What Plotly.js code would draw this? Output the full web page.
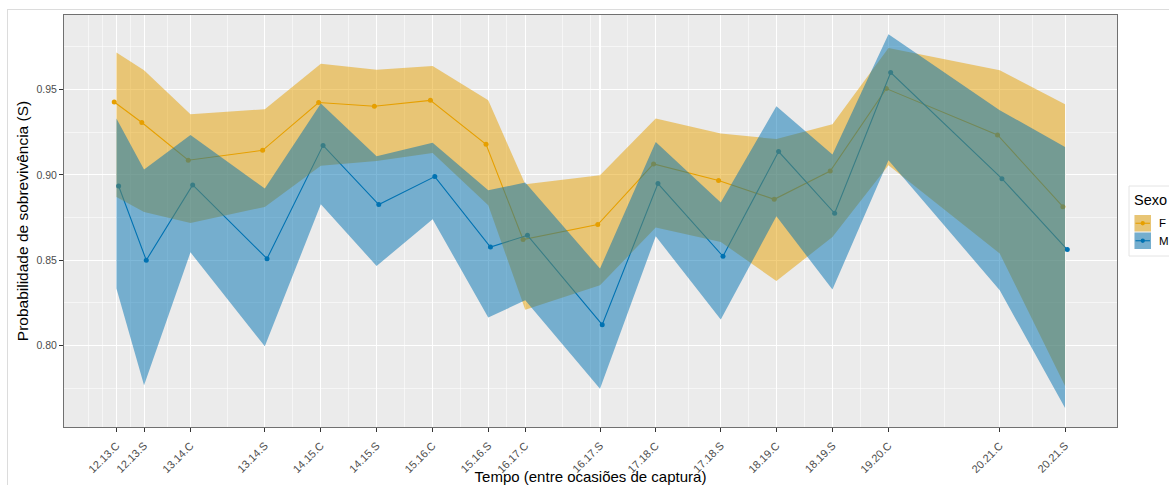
<!DOCTYPE html>
<html>
<head>
<meta charset="utf-8">
<script src="https://cdn.plot.ly/plotly-3.0.1.min.js"></script>
<style>
  html, body { margin: 0; padding: 0; background: #fff; }
  #wrap { position: relative; width: 1169px; height: 485px; overflow: hidden; }
  #chart { position: absolute; left: 0; top: 0; width: 1169px; height: 485px; }
  #frame { position: absolute; left: 7px; top: 9px; width: 1200px; height: 600px;
           border: 1px solid #dcdcdc; pointer-events: none; }
</style>
</head>
<body>
<div id="wrap">
  <div id="chart"></div>
  <div id="frame"></div>
</div>
<script>
// ---- data ----
const labels = ['12.13.C','12.13.S','13.14.C','13.14.S','14.15.C','14.15.S','15.16.C','15.16.S',
                '16.17.C','16.17.S','17.18.C','17.18.S','18.19.C','18.19.S','19.20.C','20.21.C','20.21.S'];
const tempo = [0, 2.76, 7.4, 14.83, 20.43, 26.0, 31.6, 37.16, 40.86, 48.33, 53.9, 60.4, 65.96, 71.56, 77.16, 88.28, 94.81];

const F_S     = [0.9427, 0.9307, 0.9086, 0.9144, 0.9424, 0.9402, 0.9437, 0.9179, 0.8621, 0.8709, 0.9064, 0.8967, 0.8857, 0.9023, 0.9506, 0.9234, 0.8814];
const F_upper = [0.9717, 0.9613, 0.9355, 0.9385, 0.9652, 0.9617, 0.9638, 0.9437, 0.8945, 0.8998, 0.9330, 0.9242, 0.9210, 0.9297, 0.9744, 0.9613, 0.9414];
const F_lower = [0.8870, 0.8783, 0.8718, 0.8812, 0.9054, 0.9082, 0.9128, 0.8822, 0.8210, 0.8353, 0.8691, 0.8607, 0.8378, 0.8636, 0.9057, 0.8539, 0.7763];

const M_S     = [0.8935, 0.8500, 0.8941, 0.8509, 0.9173, 0.8826, 0.8990, 0.8577, 0.8646, 0.8122, 0.8949, 0.8523, 0.9137, 0.8775, 0.9600, 0.8978, 0.8562];
const M_upper = [0.9330, 0.9031, 0.9234, 0.8920, 0.9418, 0.9109, 0.9189, 0.8910, 0.8955, 0.8451, 0.9193, 0.8838, 0.9402, 0.9119, 0.9824, 0.9379, 0.9164];
const M_lower = [0.8334, 0.7767, 0.8546, 0.7995, 0.8828, 0.8466, 0.8740, 0.8164, 0.8265, 0.7747, 0.8640, 0.8152, 0.8757, 0.8328, 0.9086, 0.8324, 0.7634];

const yTicks  = [0.80, 0.85, 0.90, 0.95];
const yLabels = ['0.80', '0.85', '0.90', '0.95'];
const yMinor  = [0.775, 0.825, 0.875, 0.925, 0.975];
const xMinorExtra = [-2.76, -1.38, 47.38];

const sexos = ['F', 'M'];
const legendTitle = 'Sexo';

// ---- styling ----
const colF = '#E69F00', colM = '#0072B2';
const fillF = 'rgba(230,159,0,0.5)', fillM = 'rgba(0,114,178,0.5)';
const dodge = 0.22;

const xMinor = [];
for (let i = 0; i < tempo.length - 1; i++) xMinor.push((tempo[i] + tempo[i + 1]) / 2);
xMinorExtra.forEach(v => xMinor.push(v));

function ribbon(xs, up, lo, color) {
  return {
    x: xs.concat(xs.slice().reverse()),
    y: up.concat(lo.slice().reverse()),
    type: 'scatter', mode: 'lines', fill: 'toself',
    fillcolor: color, line: {width: 0, color: 'rgba(0,0,0,0)'},
    hoverinfo: 'skip', showlegend: false
  };
}
function series(xs, ys, color, name) {
  return {
    x: xs, y: ys, name: name, type: 'scatter', mode: 'lines+markers',
    line: {color: color, width: 1.1}, marker: {color: color, size: 5},
    showlegend: false
  };
}

const traces = [
  series(tempo.map(v => v - dodge), F_S, colF, 'F'),
  series(tempo.map(v => v + dodge), M_S, colM, 'M'),
  ribbon(tempo, F_upper, F_lower, fillF),
  ribbon(tempo, M_upper, M_lower, fillM)
];

// manual legend (paper coordinates)
const L = 64, W = 1053, B = 427, H = 412;
const px = v => (v - L) / W, py = v => (B - v) / H;
const shapes = [
  {type: 'rect', xref: 'paper', yref: 'paper', x0: px(1129), x1: px(1240), y0: py(256), y1: py(186),
   fillcolor: 'white', line: {color: '#e4e4e4', width: 1}, layer: 'above'}
];
const annotations = [
  {xref: 'paper', yref: 'paper', x: px(1132), y: py(200), text: legendTitle, showarrow: false,
   xanchor: 'left', yanchor: 'middle', font: {size: 14.5, color: '#000'}}
];
const keyTops = [215, 232.5];
sexos.forEach((s, i) => {
  const t = keyTops[i], b = t + 16.5, c = (t + b) / 2;
  const col = i === 0 ? colF : colM, fill = i === 0 ? fillF : fillM;
  shapes.push({type: 'rect', xref: 'paper', yref: 'paper', x0: px(1134.5), x1: px(1151), y0: py(b), y1: py(t),
               fillcolor: '#EBEBEB', line: {width: 0}, layer: 'above'});
  shapes.push({type: 'rect', xref: 'paper', yref: 'paper', x0: px(1134.5), x1: px(1151), y0: py(b), y1: py(t),
               fillcolor: fill, line: {width: 0}, layer: 'above'});
  shapes.push({type: 'line', xref: 'paper', yref: 'paper', x0: px(1135.5), x1: px(1150), y0: py(c), y1: py(c),
               line: {color: col, width: 1.1}, layer: 'above'});
  shapes.push({type: 'circle', xref: 'paper', yref: 'paper', x0: px(1140.6), x1: px(1144.9), y0: py(c + 2.15), y1: py(c - 2.15),
               fillcolor: col, line: {width: 0}, layer: 'above'});
  annotations.push({xref: 'paper', yref: 'paper', x: px(1157), y: py(c), text: s, showarrow: false,
                    xanchor: 'left', yanchor: 'middle', font: {size: 11.5, color: '#000'}});
});

const layout = {
  width: 1169, height: 485,
  margin: {l: L, r: 1169 - L - W, t: B - H, b: 485 - B},
  paper_bgcolor: 'rgba(0,0,0,0)', plot_bgcolor: '#EBEBEB',
  font: {family: 'Liberation Sans, Arial, sans-serif', color: '#4D4D4D'},
  showlegend: false,
  xaxis: {
    range: [-5.24, 100], tickmode: 'array', tickvals: tempo, ticktext: labels, tickangle: -45,
    tickfont: {size: 11, color: '#4D4D4D'}, ticks: 'outside', ticklen: 4, tickcolor: '#333', tickwidth: 1,
    ticklabelstandoff: 3,
    showgrid: true, gridcolor: '#FFFFFF', gridwidth: 1.1,
    minor: {tickmode: 'array', tickvals: xMinor, showgrid: true, gridcolor: '#FFFFFF', gridwidth: 0.55, ticks: ''},
    zeroline: false, showline: true, mirror: true, linecolor: '#707070', linewidth: 1,
    title: {text: 'Tempo (entre ocasiões de captura)', font: {size: 15, color: '#000'}, standoff: 2},
    automargin: false, fixedrange: true
  },
  yaxis: {
    range: [0.75222, 0.99373], tickmode: 'array', tickvals: yTicks, ticktext: yLabels,
    tickfont: {size: 10.5, color: '#4D4D4D'}, ticks: 'outside', ticklen: 4, tickcolor: '#333', tickwidth: 1,
    showgrid: true, gridcolor: '#FFFFFF', gridwidth: 1.1,
    minor: {tickmode: 'array', tickvals: yMinor, showgrid: true, gridcolor: '#FFFFFF', gridwidth: 0.55, ticks: ''},
    zeroline: false, showline: true, mirror: true, linecolor: '#707070', linewidth: 1,
    title: {text: 'Probabilidade de sobrevivência (S)', font: {size: 15.5, color: '#000'}, standoff: 4},
    automargin: false, fixedrange: true
  },
  shapes: shapes,
  annotations: annotations
};

Plotly.newPlot('chart', traces, layout, {displayModeBar: false, staticPlot: true});
</script>
</body>
</html>
